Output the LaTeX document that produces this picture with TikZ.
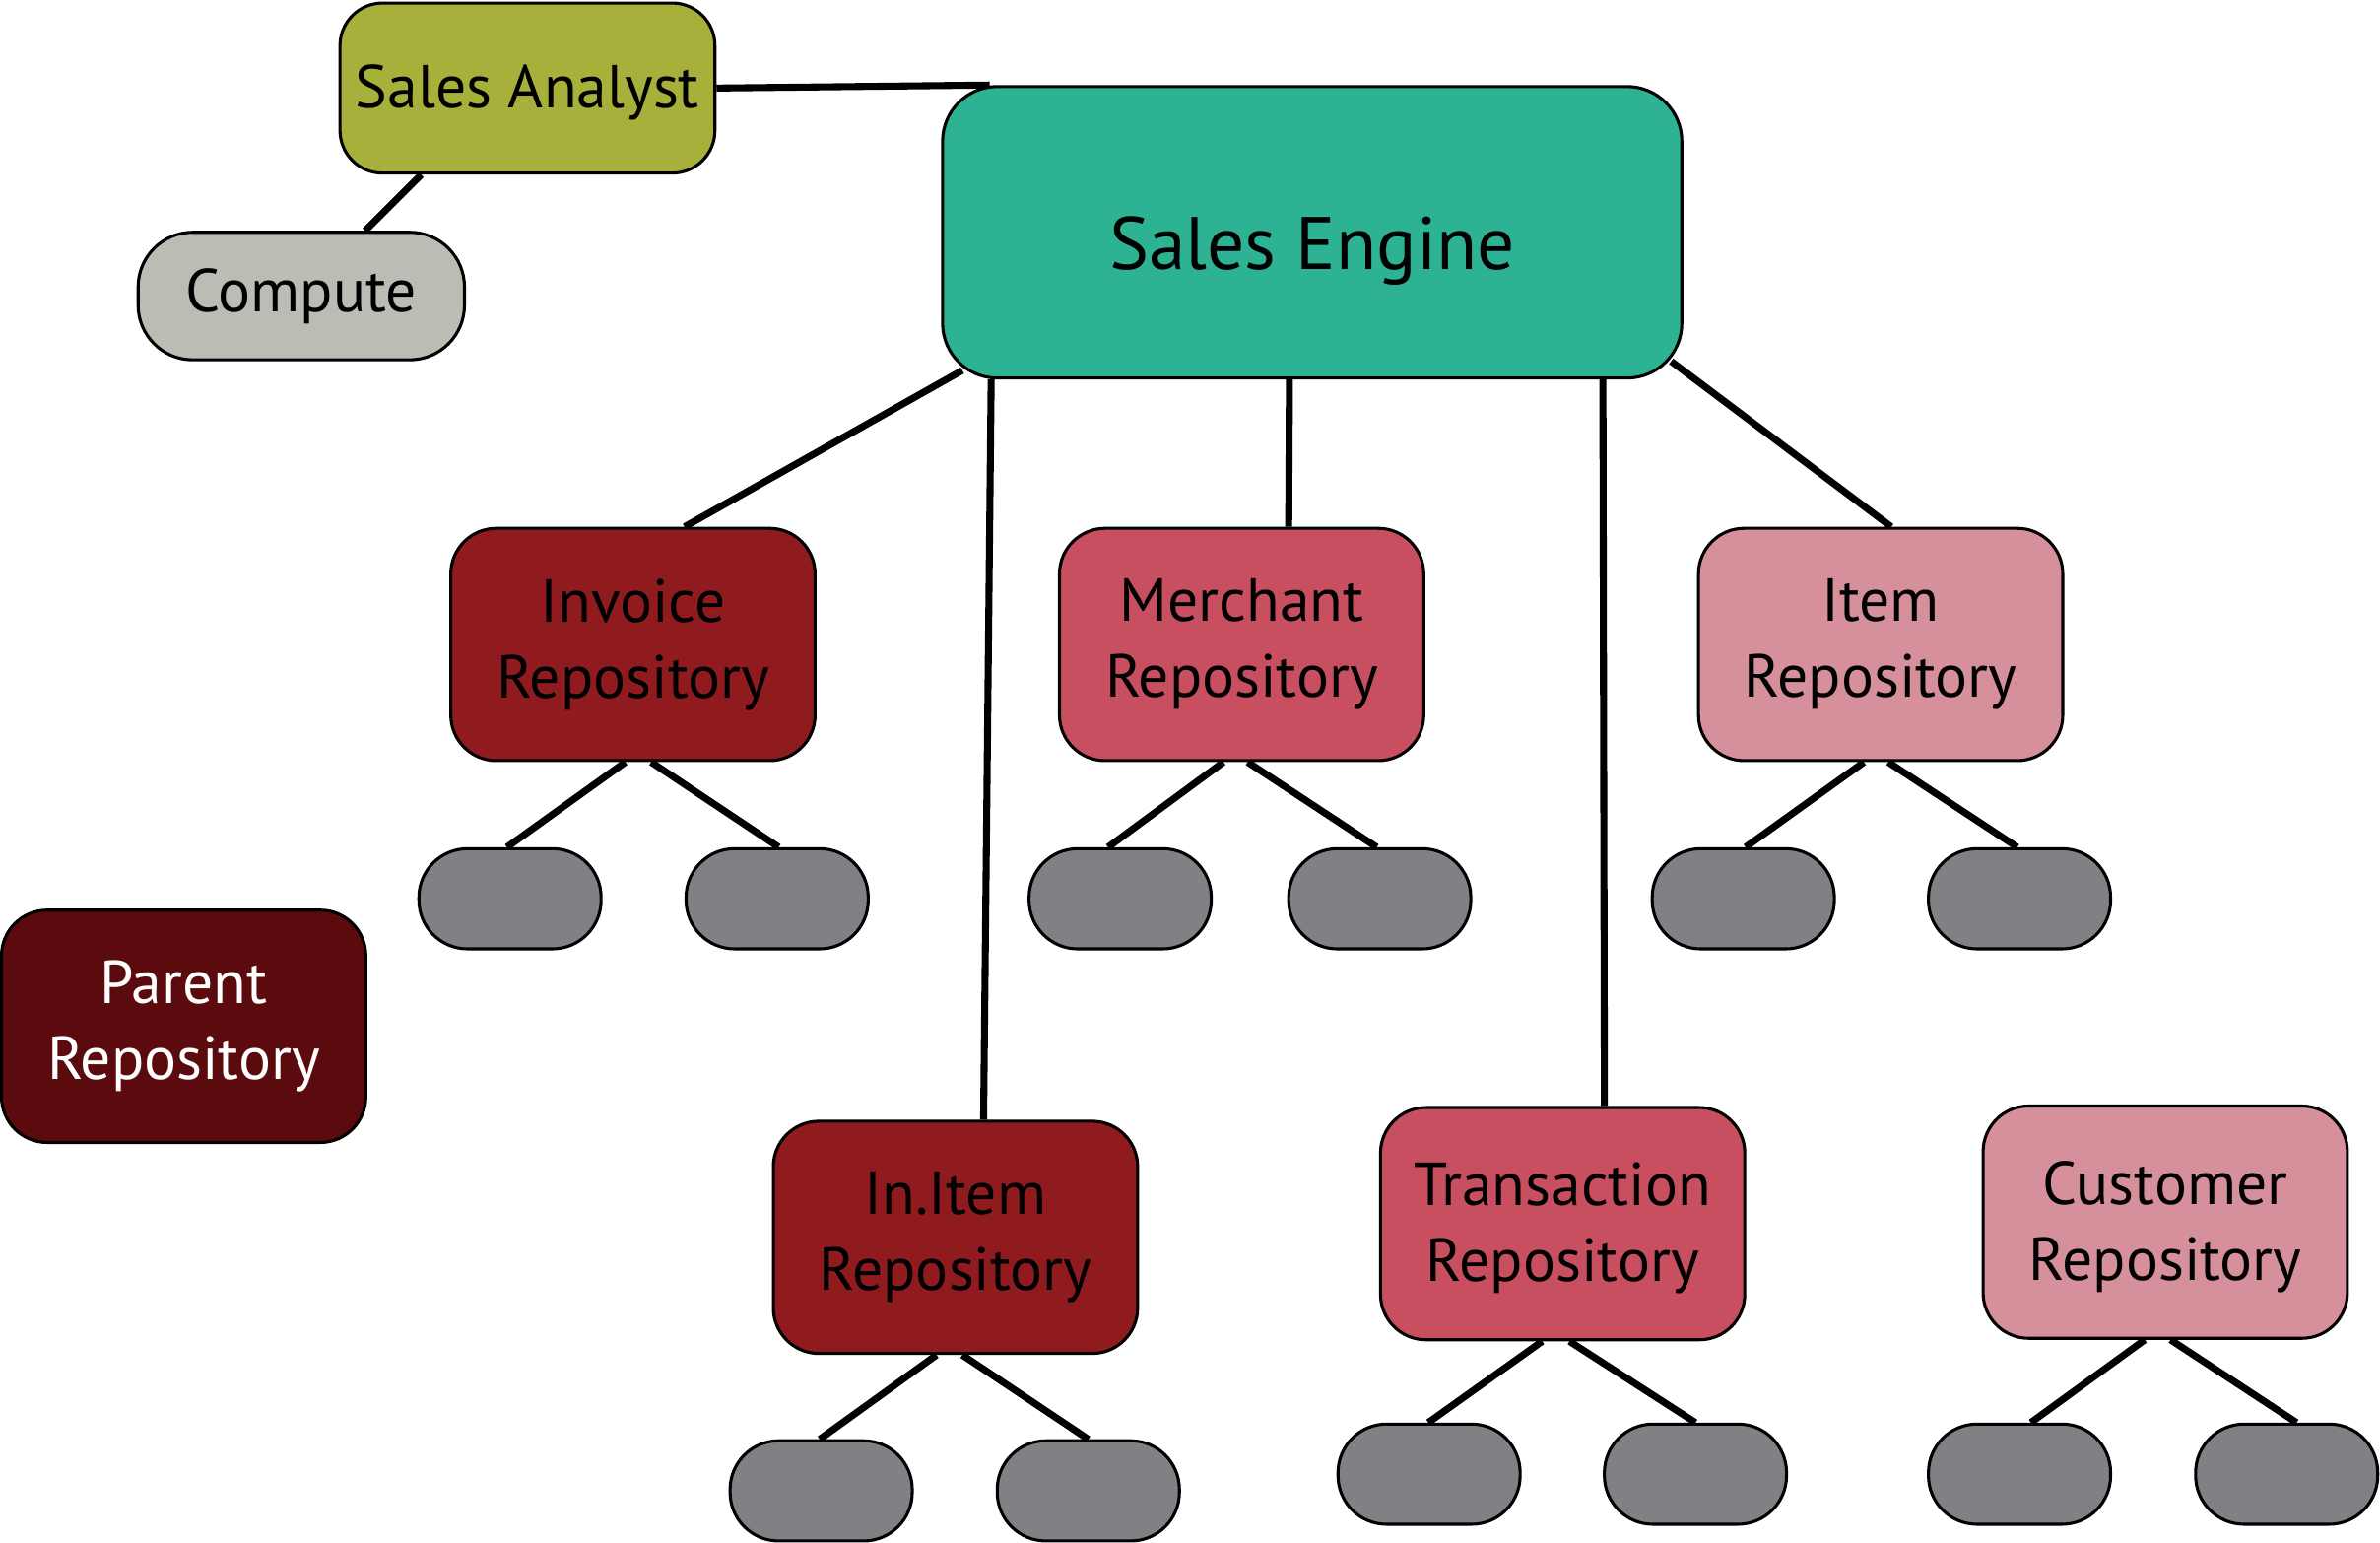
\documentclass[tikz,border=0pt]{standalone}
\usepackage{fontspec}
\setmainfont{PT Sans}
\usetikzlibrary{backgrounds}
\definecolor{olive}{HTML}{A8B03C}
\definecolor{teal}{HTML}{2DB394}
\definecolor{lgray}{HTML}{BCBCB4}
\definecolor{dred}{HTML}{8F1B1F}
\definecolor{mred}{HTML}{C74F5F}
\definecolor{pinkr}{HTML}{D6909C}
\definecolor{parentc}{HTML}{5B0B0E}
\definecolor{leafc}{HTML}{808184}
\tikzset{
  box/.style={draw=black, line width=1pt, rounded corners=15pt, align=center, inner sep=0pt,
    minimum width=120pt, minimum height=76.5pt, font=\fontsize{20}{25}\selectfont},
  leaf/.style={draw=black, line width=1pt, rounded corners=16pt, fill=leafc, inner sep=0pt,
    minimum width=60pt, minimum height=33pt},
  conn/.style={line width=2.3pt, black},
}
\begin{document}
\begin{tikzpicture}[x=0.5pt,y=-0.5pt]
\useasboundingbox (0,0) rectangle (1568,1016);
% top nodes
\node[box, fill=olive, minimum width=123.5pt, minimum height=56pt, rounded corners=14pt] (sa) at (347.5,58) {\raisebox{-1.5pt}[\height][\depth]{Sales Analyst}};
\node[box, fill=lgray, minimum width=107.5pt, minimum height=42pt, rounded corners=18pt] (cmp) at (198.5,195) {Compute};
\node[box, fill=teal, minimum width=243.5pt, minimum height=96pt, rounded corners=18pt, font=\fontsize{24.5}{28}\selectfont] (se) at (864.5,153) {\raisebox{-6pt}[\height][\depth]{Sales Engine}};
% repositories
\node[box, fill=dred] (inv) at (417,424.5) {Invoice\\Repository};
\node[box, fill=mred] (mer) at (818,424.5) {Merchant\\Repository};
\node[box, fill=pinkr] (itm) at (1239,424.5) {Item\\Repository};
\node[box, fill=parentc, text=white] (par) at (121,676) {Parent\\Repository};
\node[box, fill=dred] (ini) at (629.5,815) {In.Item\\Repository};
\node[box, fill=mred] (trn) at (1029.5,806) {\raisebox{-1.5pt}[\height][\depth]{Transaction}\\\raisebox{-1.5pt}[\height][\depth]{Repository}};
\node[box, fill=pinkr] (cus) at (1426.5,805) {\raisebox{-1.5pt}[\height][\depth]{Customer}\\\raisebox{-1.5pt}[\height][\depth]{Repository}};
% leaves
\node[leaf] (inv1) at (336,592) {};
\node[leaf] (inv2) at (512,592) {};
\node[leaf] (mer1) at (738,592) {};
\node[leaf] (mer2) at (909,592) {};
\node[leaf] (itm1) at (1148.5,592) {};
\node[leaf] (itm2) at (1330.5,592) {};
\node[leaf] (ini1) at (541,982) {};
\node[leaf] (ini2) at (717,982) {};
\node[leaf] (trn1) at (941.5,971) {};
\node[leaf] (trn2) at (1117,971) {};
\node[leaf] (cus1) at (1330.5,971) {};
\node[leaf] (cus2) at (1506.5,971) {};
\begin{pgfonlayer}{background}
\draw[conn] (sa.east) -- ([xshift=16pt]se.north west);
\draw[conn] ([xshift=-35pt]sa.south) -- ([xshift=21pt]cmp.north);
\draw[conn] ([xshift=7pt,yshift=3pt]se.south west) -- ([xshift=17pt]inv.north);
\draw[conn] ([xshift=16.5pt]se.south west) -- ([xshift=9.25pt]ini.north);
\draw[conn] ([xshift=-7.5pt]se.south) -- ([xshift=15.5pt]mer.north);
\draw[conn] ([xshift=218pt]se.south west) -- ([xshift=13.75pt]trn.north);
\draw[conn] ([xshift=-4pt,yshift=6pt]se.south east) -- ([xshift=3.5pt]itm.north);
\foreach \p/\a/\b/\c/\d in {inv/-2.5/6/-1/0.5, mer/-6/2/-4/-1, itm/-5.5/2.5/0.75/-0.75,
    ini/-6.25/2.25/-0.5/0, trn/-6.75/2.25/-0.25/0, cus/-6.75/1.75/3.75/3.25}{
  \draw[conn] ([xshift=\a pt]\p.south) -- ([xshift=\c pt]\p1.north);
  \draw[conn] ([xshift=\b pt]\p.south) -- ([xshift=\d pt]\p2.north);
}
\end{pgfonlayer}
\end{tikzpicture}
\end{document}
